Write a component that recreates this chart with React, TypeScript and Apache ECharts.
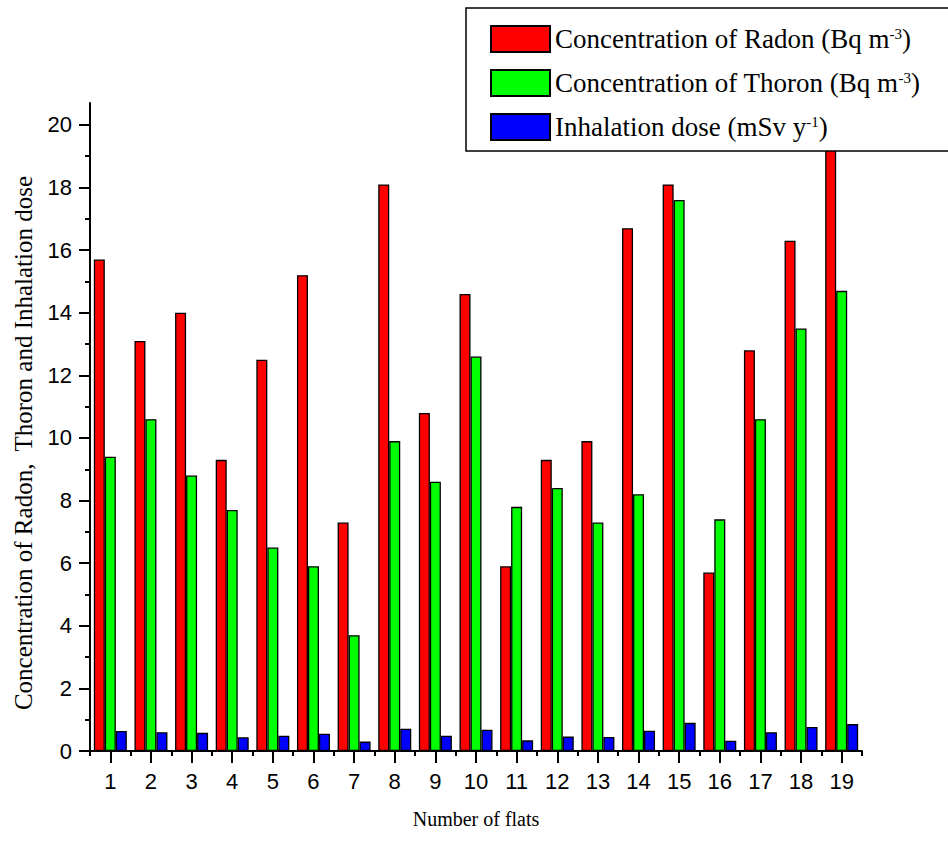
import React, { useEffect, useRef } from 'react';
import * as echarts from 'echarts';

// Flat numbers on the category axis
const flats = ['1', '2', '3', '4', '5', '6', '7', '8', '9', '10', '11', '12', '13', '14', '15', '16', '17', '18', '19'];

// Radon concentration (Bq m^-3) per flat
const radon = [15.7, 13.1, 14.0, 9.3, 12.5, 15.2, 7.3, 18.1, 10.8, 14.6, 5.9, 9.3, 9.9, 16.7, 18.1, 5.7, 12.8, 16.3, 19.7];

// Thoron concentration (Bq m^-3) per flat
const thoron = [9.4, 10.6, 8.8, 7.7, 6.5, 5.9, 3.7, 9.9, 8.6, 12.6, 7.8, 8.4, 7.3, 8.2, 17.6, 7.4, 10.6, 13.5, 14.7];

// Inhalation dose (mSv y^-1) per flat
const dose = [0.64, 0.6, 0.58, 0.44, 0.49, 0.55, 0.3, 0.71, 0.49, 0.68, 0.34, 0.46, 0.45, 0.65, 0.9, 0.33, 0.6, 0.77, 0.86];

// Labelled values on the vertical axis
const yTicks = [0, 2, 4, 6, 8, 10, 12, 14, 16, 18, 20];

const seriesNames = ['Radon', 'Thoron', 'Dose'];
const legendLabels: Record<string, string> = {
  Radon: '{base|Concentration of Radon (Bq m}{sup|-3}{base|)}',
  Thoron: '{base|Concentration of Thoron (Bq m}{sup|-3}{base|)}',
  Dose: '{base|Inhalation dose (mSv y}{sup|-1}{base|)}',
};

const SERIF = 'Liberation Serif';
const SANS = 'Liberation Sans';

export default function App() {
  const ref = useRef<HTMLDivElement>(null);

  useEffect(() => {
    if (!ref.current) return;
    const chart = echarts.init(ref.current, undefined, { renderer: 'svg' });

    const barStyle = (color: string) => ({
      color,
      borderColor: '#000',
      borderWidth: 1.3,
    });

    chart.setOption({
      animation: false,
      backgroundColor: '#fff',
      grid: { left: 90, right: 86, top: 103, bottom: 91, containLabel: false },
      legend: {
        orient: 'vertical',
        left: 466,
        top: 8,
        padding: [17, 70, 10, 24],
        itemWidth: 59,
        itemHeight: 26,
        itemGap: 16,
        icon: 'rect',
        borderColor: '#000',
        borderWidth: 1.5,
        borderRadius: 0,
        backgroundColor: '#fff',
        data: seriesNames,
        formatter: (name: string) => legendLabels[name],
        textStyle: {
          fontFamily: SERIF,
          fontSize: 27,
          lineHeight: 26,
          color: '#000',
          rich: {
            base: { fontFamily: SERIF, fontSize: 27, lineHeight: 26, color: '#000' },
            sup: { fontFamily: SERIF, fontSize: 15, lineHeight: 14, color: '#000', verticalAlign: 'top' },
          },
        },
      },
      xAxis: [
        {
          type: 'category',
          data: flats,
          position: 'bottom',
          name: 'Number of flats',
          nameLocation: 'middle',
          nameGap: 58,
          nameTextStyle: { fontFamily: SERIF, fontSize: 20, color: '#000' },
          axisLine: { show: true, lineStyle: { color: '#000', width: 2 } },
          axisTick: { show: true, alignWithLabel: true, length: 12, lineStyle: { color: '#000', width: 2 } },
          axisLabel: { fontFamily: SANS, fontSize: 22, color: '#000', margin: 19 },
          splitLine: { show: false },
        },
        {
          type: 'category',
          data: flats,
          position: 'bottom',
          axisLine: { show: false },
          axisTick: { show: true, alignWithLabel: false, length: 5, lineStyle: { color: '#000', width: 2 } },
          axisLabel: { show: false },
          splitLine: { show: false },
        },
      ],
      yAxis: {
        type: 'value',
        min: 0,
        max: 20.7,
        interval: 2,
        name: 'Concentration of Radon,  Thoron and Inhalation dose',
        nameLocation: 'middle',
        nameRotate: 90,
        nameGap: 54,
        nameTextStyle: { fontFamily: SERIF, fontSize: 25, color: '#000', padding: [0, 32, 0, 0] },
        axisLine: { show: true, lineStyle: { color: '#000', width: 2 } },
        axisTick: { show: true, length: 11, customValues: yTicks, lineStyle: { color: '#000', width: 2 } },
        minorTick: { show: true, splitNumber: 2, length: 5, lineStyle: { color: '#000', width: 2 } },
        axisLabel: { customValues: yTicks, fontFamily: SANS, fontSize: 22, color: '#000', margin: 18 },
        splitLine: { show: false },
        minorSplitLine: { show: false },
      },
      series: [
        { name: 'Radon', type: 'bar', data: radon, barWidth: 11, barGap: '0%', itemStyle: barStyle('#ff0000') },
        { name: 'Thoron', type: 'bar', data: thoron, barWidth: 11, barGap: '0%', itemStyle: barStyle('#00ff00') },
        { name: 'Dose', type: 'bar', data: dose, barWidth: 11, barGap: '0%', itemStyle: barStyle('#0000ff') },
      ],
    });

    return () => chart.dispose();
  }, []);

  return (
    <div
      ref={ref}
      style={{ position: 'fixed', left: 0, top: 0, width: 948, height: 842, background: '#fff' }}
    />
  );
}
